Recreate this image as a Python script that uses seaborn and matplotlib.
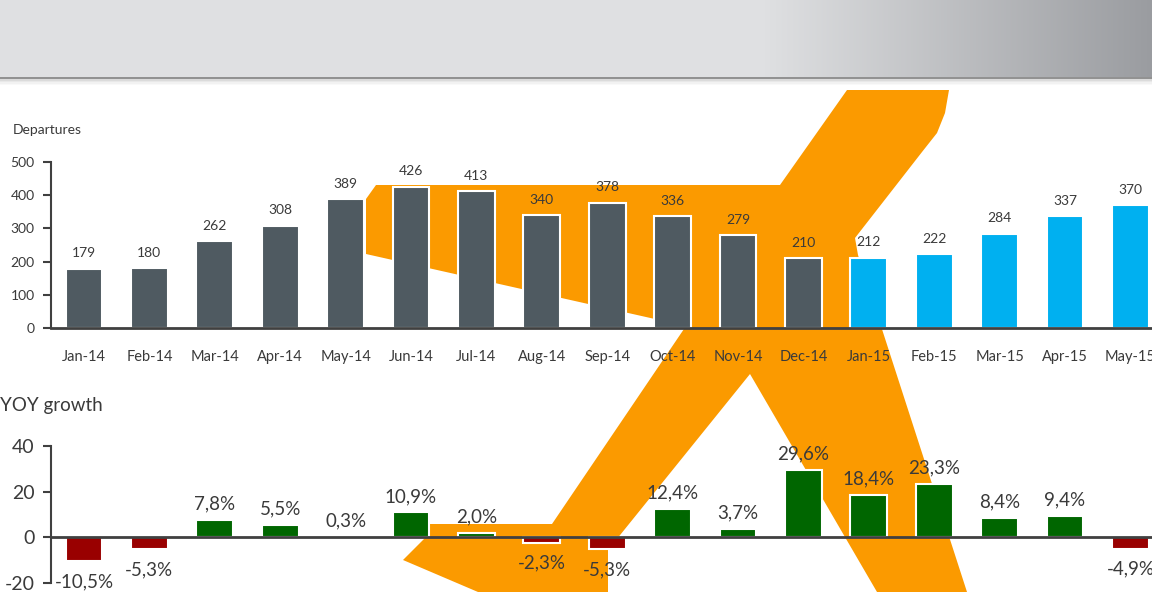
import numpy as np
import matplotlib
matplotlib.use('Agg')
import matplotlib.pyplot as plt
from matplotlib.patches import Polygon, Rectangle
import seaborn as sns

# Datos del gráfico.
months = ['Jan-14', 'Feb-14', 'Mar-14', 'Apr-14', 'May-14', 'Jun-14', 'Jul-14',
          'Aug-14', 'Sep-14', 'Oct-14', 'Nov-14', 'Dec-14', 'Jan-15', 'Feb-15',
          'Mar-15', 'Apr-15', 'May-15']
departures = [179, 180, 262, 308, 389, 426, 413, 340, 378, 336, 279, 210,
              212, 222, 284, 337, 370]
yoy_growth = [-10.5, -5.3, 7.8, 5.5, 0.3, 10.9, 2.0, -2.3, -5.3, 12.4, 3.7,
              29.6, 18.4, 23.3, 8.4, 9.4, -4.9]

# Colores.
gray = '#4f5a61'
blue = '#00b0f0'
green = '#006600'
red = '#990000'
orange = '#fb9a00'
text_color = '#3a3a3a'
axis_color = '#404040'

# Contorno del avión de fondo (en píxeles de la figura, decoración).
plane_outline = [(376, 185), (780, 185), (847, 90), (949, 90), (945, 113),
                 (937, 133), (922, 152), (855, 238), (858, 255), (967, 592),
                 (877, 592), (750, 374), (608, 550), (608, 592), (478, 592),
                 (403, 560), (430, 533), (430, 524), (552, 524), (686, 326),
                 (366, 254), (366, 199)]

sns.set_style('white')
plt.rcParams['font.family'] = ['Lato', 'DejaVu Sans']
plt.rcParams['axes.unicode_minus'] = False

W, H = 1152, 592
fig = plt.figure(figsize=(W / 100, H / 100), dpi=100)

# Fondo: cabecera gris y avión naranja.
bg = fig.add_axes([0, 0, 1, 1], zorder=0)
bg.set_xlim(0, W)
bg.set_ylim(H, 0)
bg.axis('off')

left_col = np.array([0xdf, 0xe0, 0xe2]) / 255
right_col = np.array([0x9a, 0x9c, 0xa0]) / 255
xs = np.arange(W)
t = np.clip((xs - 764) / (W - 764), 0, 1)
grad = left_col[None, :] * (1 - t[:, None]) + right_col[None, :] * t[:, None]
bg.imshow(grad[None, :, :], extent=(0, W, 77, 0), aspect='auto', zorder=0)
bg.add_patch(Rectangle((0, 77), W, 2, color='#929292', lw=0, zorder=1))
for k, a in enumerate([0.35, 0.22, 0.12, 0.06]):
    bg.add_patch(Rectangle((0, 79 + k * 1.5), W, 1.5, color='#9a9a9a',
                           alpha=a, lw=0, zorder=1))
bg.add_patch(Polygon(plane_outline, closed=True, color=orange, lw=0,
                     zorder=2))

# Posición horizontal común de los dos gráficos.
x0_px, step_px = 51.3, 65.4
ax_w = 17 * step_px

# Gráfico superior: salidas.
ax1 = fig.add_axes([x0_px / W, (H - 328) / H, ax_w / W, 166 / H], zorder=1)
ax1.patch.set_alpha(0)
bar_colors = [gray if m.endswith('14') else blue for m in months]
sns.barplot(x=months, y=departures, hue=months,
            palette=dict(zip(months, bar_colors)), legend=False, width=0.56,
            edgecolor='white', linewidth=1.5, saturation=1, ax=ax1)
ax1.set_xlim(-0.5, 16.5)
ax1.set_ylim(0, 500)
ax1.set_yticks([0, 100, 200, 300, 400, 500])
for i, v in enumerate(departures):
    ax1.annotate(str(v), (i, v), xytext=(0, 11), textcoords='offset points',
                 ha='center', va='center', fontsize=10, color=text_color)
for s in ['top', 'right']:
    ax1.spines[s].set_visible(False)
for s in ['left', 'bottom']:
    ax1.spines[s].set_color(axis_color)
ax1.spines['left'].set_linewidth(1.5)
ax1.spines['bottom'].set_linewidth(2)
ax1.tick_params(axis='y', left=True, length=6, width=1.5, color=axis_color,
                pad=6, labelsize=10, labelcolor=text_color)
ax1.tick_params(axis='x', length=0, pad=16, labelsize=10.5,
                labelcolor=text_color)
ax1.set_xlabel('')
ax1.set_ylabel('')
fig.text(13 / W, 1 - 130 / H, 'Departures', fontsize=10, color=text_color,
         ha='left', va='center')

# Gráfico inferior: crecimiento interanual.
ax2 = fig.add_axes([x0_px / W, 9 / H, ax_w / W, 137 / H], zorder=1)
ax2.patch.set_alpha(0)
growth_colors = [green if g >= 0 else red for g in yoy_growth]
sns.barplot(x=months, y=yoy_growth, hue=months,
            palette=dict(zip(months, growth_colors)), legend=False,
            width=0.56, edgecolor='white', linewidth=1.5, saturation=1, ax=ax2)
ax2.set_xlim(-0.5, 16.5)
ax2.set_ylim(-20, 40)
ax2.set_yticks([-20, 0, 20, 40])
for i, g in enumerate(yoy_growth):
    label = f'{g:.1f}'.replace('.', ',') + '%'
    off = 11.5 if g >= 0 else -14.5
    ax2.annotate(label, (i, g), xytext=(0, off), textcoords='offset points',
                 ha='center', va='center', fontsize=13.5, color=text_color)
for s in ['top', 'right']:
    ax2.spines[s].set_visible(False)
ax2.spines['bottom'].set_position(('data', 0))
for s in ['left', 'bottom']:
    ax2.spines[s].set_color(axis_color)
ax2.spines['left'].set_linewidth(1.5)
ax2.spines['bottom'].set_linewidth(2)
ax2.tick_params(axis='y', left=True, length=6, width=1.5, color=axis_color,
                pad=6, labelsize=14, labelcolor=text_color)
ax2.tick_params(axis='x', length=0, labelbottom=False)
ax2.set_xlabel('')
ax2.set_ylabel('')
fig.text(0, 1 - 405 / H, 'YOY growth', fontsize=13.5, color=text_color,
         ha='left', va='center')

fig.savefig('out.png', dpi=100)
